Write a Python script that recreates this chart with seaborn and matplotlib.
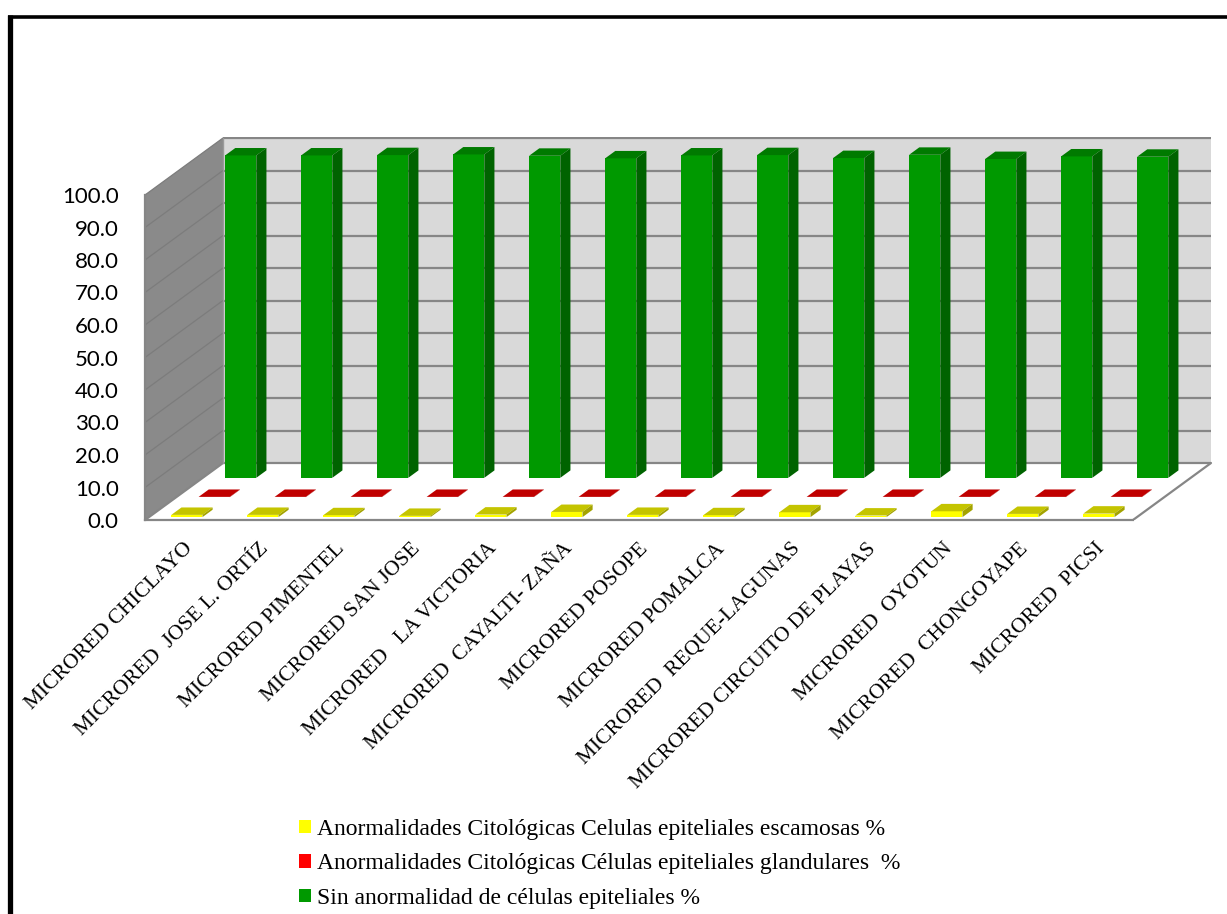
import numpy as np
import pandas as pd
import matplotlib
matplotlib.use("Agg")
import matplotlib.pyplot as plt
from matplotlib.patches import Polygon, Patch
from matplotlib.lines import Line2D
import seaborn as sns

# --- data -------------------------------------------------------------
microredes = [
    "MICRORED CHICLAYO",
    "MICRORED  JOSE L. ORTÍZ",
    "MICRORED PIMENTEL",
    "MICRORED SAN JOSE",
    "MICRORED   LA VICTORIA",
    "MICRORED  CAYALTI- ZAÑA",
    "MICRORED POSOPE",
    "MICRORED POMALCA",
    "MICRORED  REQUE-LAGUNAS",
    "MICRORED CIRCUITO DE PLAYAS",
    "MICRORED  OYOTUN",
    "MICRORED  CHONGOYAPE",
    "MICRORED  PICSI",
]
serie_escamosas = "Anormalidades Citológicas Celulas epiteliales escamosas %"
serie_glandulares = "Anormalidades Citológicas Células epiteliales glandulares  %"
serie_normal = "Sin anormalidad de células epiteliales %"

escamosas = [0.7, 0.7, 0.6, 0.4, 0.8, 1.6, 0.7, 0.6, 1.5, 0.5, 1.8, 1.0, 1.1]
glandulares = [0.1, 0.1, 0.1, 0.1, 0.1, 0.1, 0.1, 0.1, 0.1, 0.1, 0.1, 0.1, 0.1]
sin_anormalidad = [99.2, 99.2, 99.3, 99.5, 99.1, 98.3, 99.2, 99.3, 98.4, 99.4, 98.1, 98.9, 98.8]

y_ticks = [0, 10, 20, 30, 40, 50, 60, 70, 80, 90, 100]

# --- styling ----------------------------------------------------------
sns.set_style("white")
SERIF = ["Liberation Serif", "DejaVu Serif"]
SANS = ["Lato", "DejaVu Sans"]
GRID = "#868686"

# face colours: front, top, side
shades = {
    serie_normal: ("#009900", "#007a00", "#006300"),
    serie_glandulares: ("#ff0000", "#c00000", "#a00000"),
    serie_escamosas: ("#ffff00", "#c4c400", "#a3a300"),
}
# position of each row inside the box depth (0 = front, 1 = back wall)
row_depth = {serie_normal: 0.74, serie_glandulares: 0.40, serie_escamosas: 0.05}
bar_depth = 0.13

W, H = 1227, 914
fig = plt.figure(figsize=(W / 100, H / 100), dpi=100)

# axes: 1 category = 76 px, 1 % = 3.25 px, origin of front plane at (145, 520)
x_lo, x_hi = -0.5, 13.6
y_lo, y_hi = 0.0, 118.0
ax_w = (x_hi - x_lo) * 76
ax_h = (y_hi - y_lo) * 3.25
ax = fig.add_axes([145 / W, (H - 520) / H, ax_w / W, ax_h / H])

df = pd.DataFrame({
    "microred": microredes * 3,
    "serie": [serie_normal] * 13 + [serie_glandulares] * 13 + [serie_escamosas] * 13,
    "valor": sin_anormalidad + glandulares + escamosas,
})
hue_order = [serie_normal, serie_glandulares, serie_escamosas]
sns.barplot(
    data=df, x="microred", y="valor", hue="serie", order=microredes,
    hue_order=hue_order, palette=[shades[s][0] for s in hue_order],
    dodge=False, width=0.41, saturation=1, errorbar=None, legend=False,
    linewidth=0, ax=ax,
)
ax.set_xlim(x_lo, x_hi)
ax.set_ylim(y_lo, y_hi)
ax.set_facecolor("none")

# depth vector (78 px right, 57 px up) expressed in data units
p0 = ax.transData.transform((0, 0))
p1 = ax.transData.transform((1, 1))
DX = 78 / (p1[0] - p0[0])
DY = 57 / (p1[1] - p0[1])

n = len(microredes)
left, right = -0.5, n - 0.5

# left side wall
ax.add_patch(Polygon([(left, 0), (left, 100), (left + DX, 100 + DY), (left + DX, DY)],
                     closed=True, facecolor="#8a8a8a", edgecolor="none", zorder=1))
# back wall
ax.add_patch(Polygon([(left + DX, DY), (right + DX, DY), (right + DX, 100 + DY), (left + DX, 100 + DY)],
                     closed=True, facecolor="#d9d9d9", edgecolor="none", zorder=1))
for v in y_ticks:
    ax.plot([left + DX, right + DX], [v + DY, v + DY], color=GRID, lw=1.6, zorder=1.5,
            solid_capstyle="butt")
    if 0 < v <= 100:
        ax.plot([left, left + DX], [v, v + DY], color="#7c7c7c", lw=0.9, zorder=1.4)
# floor edges
ax.plot([left, left + DX], [0, DY], color=GRID, lw=1.6, zorder=1.6)
ax.plot([right, right + DX], [0, DY], color=GRID, lw=1.6, zorder=1.6)
ax.plot([left + DX, left + DX], [DY, 100 + DY], color="#9a9a9a", lw=1.0, zorder=1.6)

# push each series into its row and give the bars their top and side faces
for z, (serie, container) in enumerate(zip(hue_order, ax.containers)):
    d = row_depth[serie]
    front, top, side = shades[serie]
    bdx, bdy = bar_depth * DX, bar_depth * DY
    for p in container.patches:
        x0, w, h = p.get_x(), p.get_width(), p.get_height()
        x = x0 + d * DX
        y = d * DY
        p.set_xy((x, y))
        p.set_zorder(3 + z)
        ax.add_patch(Polygon([(x, y + h), (x + w, y + h), (x + w + bdx, y + h + bdy), (x + bdx, y + h + bdy)],
                             closed=True, facecolor=top, edgecolor="none", zorder=3 + z))
        ax.add_patch(Polygon([(x + w, y), (x + w + bdx, y + bdy), (x + w + bdx, y + h + bdy), (x + w, y + h)],
                             closed=True, facecolor=side, edgecolor="none", zorder=3 + z))

# axes, ticks and labels
for s in ("top", "right"):
    ax.spines[s].set_visible(False)
ax.spines["left"].set_bounds(0, 100)
ax.spines["bottom"].set_bounds(left, right)
for s in ("left", "bottom"):
    ax.spines[s].set_color(GRID)
    ax.spines[s].set_linewidth(1.6)
    ax.spines[s].set_zorder(1.7)

ax.set_yticks(y_ticks)
ax.set_yticklabels([f"{v:.1f}" for v in y_ticks], fontfamily=SANS, fontsize=16)
ax.tick_params(axis="y", length=6, width=1.5, color=GRID, pad=13, labelcolor="black")

ax.set_xticks(range(n))
ax.set_xticklabels(microredes, rotation=45, ha="right", va="top", rotation_mode="anchor",
                   fontfamily=SERIF, fontsize=15.5)
ax.set_xticks(np.arange(left, right + 0.01, 1), minor=True)
ax.tick_params(axis="x", which="major", length=0, pad=14, labelcolor="black")
ax.tick_params(axis="x", which="minor", length=5, width=1.5, color=GRID, direction="out")
ax.set_xlabel("")
ax.set_ylabel("")

# legend
handles = [Patch(facecolor=shades[s][0], edgecolor="none") for s in
           (serie_escamosas, serie_glandulares, serie_normal)]
labels = [serie_escamosas, serie_glandulares, serie_normal]
fig.legend(handles, labels, loc="upper left", bbox_to_anchor=(299 / W, 1 - 819 / H),
           frameon=False, borderaxespad=0, borderpad=0, handlelength=0.5, handleheight=0.5,
           handletextpad=0.25, labelspacing=0.57, labelcolor="black",
           prop={"family": SERIF, "size": 17})

# chart frame
fig.add_artist(Line2D([9.5 / W, 9.5 / W], [0, 1 - 15 / H], color="black", lw=3.8,
                      transform=fig.transFigure, solid_capstyle="butt"))
fig.add_artist(Line2D([7.6 / W, 1], [1 - 16.5 / H, 1 - 16.5 / H], color="black", lw=2.6,
                      transform=fig.transFigure, solid_capstyle="butt"))

fig.savefig("out.png", dpi=100, facecolor="white")
